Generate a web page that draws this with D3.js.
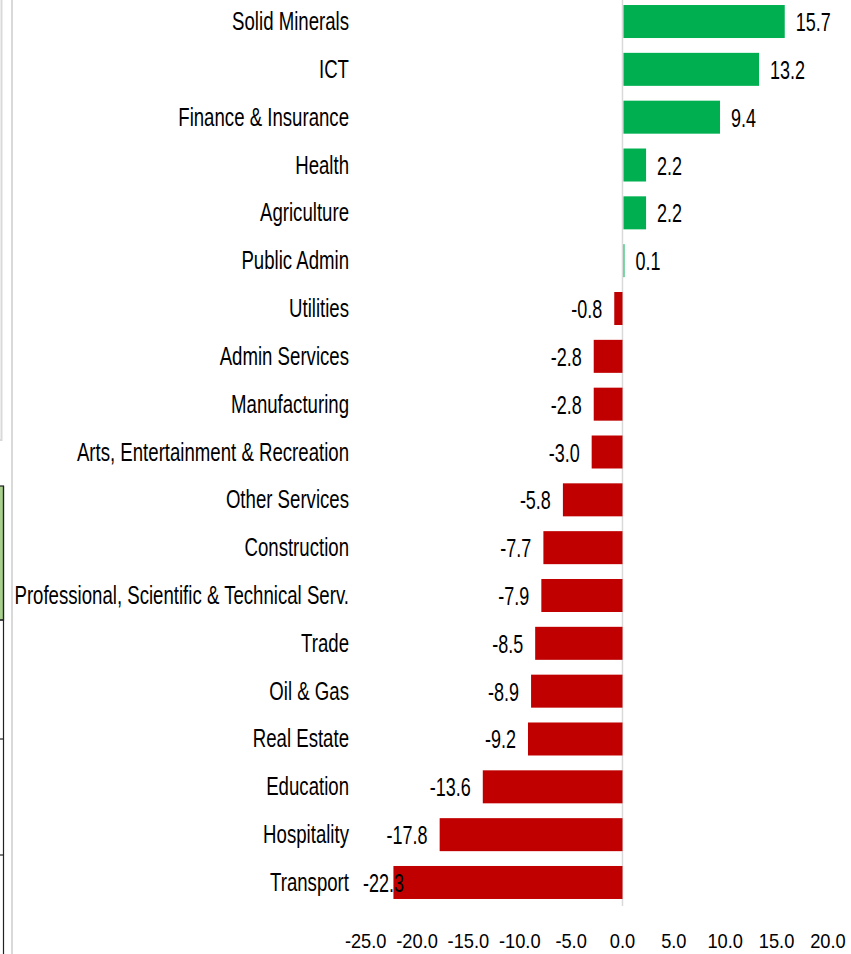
<!DOCTYPE html>
<html>
<head>
<meta charset="utf-8">
<script src="https://cdn.jsdelivr.net/npm/d3@7"></script>
<style>
  body { margin: 0; background: #fff; }
  svg text { font-family: "Liberation Sans", Arial, sans-serif; fill: #000; }
</style>
</head>
<body>
<svg id="chart"></svg>
<script>
// sector growth values
const sectors = ["Solid Minerals", "ICT", "Finance & Insurance", "Health", "Agriculture",
  "Public Admin", "Utilities", "Admin Services", "Manufacturing",
  "Arts, Entertainment & Recreation", "Other Services", "Construction",
  "Professional, Scientific & Technical Serv.", "Trade", "Oil & Gas", "Real Estate",
  "Education", "Hospitality", "Transport"];
const growth = [15.7, 13.2, 9.4, 2.2, 2.2, 0.1, -0.8, -2.8, -2.8, -3.0, -5.8, -7.7,
  -7.9, -8.5, -8.9, -9.2, -13.6, -17.8, -22.3];
const xTicks = [-25, -20, -15, -10, -5, 0, 5, 10, 15, 20];

const data = sectors.map((s, i) => ({ sector: s, value: growth[i] }));

const width = 851, height = 954;

// the original uses a condensed face, so squeeze Liberation Sans sideways
const catSqueeze = 0.745, valSqueeze = 0.72, tickSqueeze = 0.87;

const svg = d3.select("#chart")
  .attr("width", width)
  .attr("height", height);

// bits of the neighbouring sheet showing on the left edge
const edge = svg.append("g");
edge.append("path").attr("d", "M1.5,0V440H0").attr("fill", "none").attr("stroke", "#d9d9d9").attr("stroke-width", 2);
edge.append("line").attr("x1", 12).attr("x2", 12).attr("y1", 0).attr("y2", height)
  .attr("stroke", "#d9d9d9").attr("stroke-width", 2);
edge.append("rect").attr("x", -2).attr("y", 486).attr("width", 5.5).attr("height", 134)
  .attr("fill", "#a9d18e").attr("stroke", "#222").attr("stroke-width", 1.2);
edge.append("line").attr("x1", 3.5).attr("x2", 3.5).attr("y1", 486).attr("y2", height)
  .attr("stroke", "#222").attr("stroke-width", 1.2);
[620, 739, 855].forEach(yy => {
  edge.append("line").attr("x1", 0).attr("x2", 4).attr("y1", yy).attr("y2", yy)
    .attr("stroke", "#222").attr("stroke-width", 1.2);
});

// scales
const x = d3.scaleLinear()
  .domain([-25, 20])
  .range([365.7, 827.9]);

const y = d3.scaleBand()
  .domain(sectors)
  .range([-2.4, 906.4])
  .paddingInner(0.31)
  .paddingOuter(0.155);

// zero line
svg.append("line")
  .attr("x1", x(0)).attr("x2", x(0))
  .attr("y1", 0).attr("y2", 906)
  .attr("stroke", "#d9d9d9").attr("stroke-width", 1.5);

// bars
svg.selectAll(".bar")
  .data(data)
  .enter()
  .append("rect")
  .attr("class", "bar")
  .attr("x", d => x(Math.min(0, d.value)) + (d.value > 0 ? 1 : 0))
  .attr("y", d => y(d.sector))
  .attr("width", d => Math.abs(x(d.value) - x(0)))
  .attr("height", y.bandwidth())
  .attr("fill", d => d.value >= 0 ? "#00b050" : "#c00000");

// category labels
svg.selectAll(".cat")
  .data(data)
  .enter()
  .append("text")
  .attr("class", "cat")
  .attr("transform", d => `translate(349,${y(d.sector) + y.bandwidth() / 2}) scale(${catSqueeze},1)`)
  .attr("dy", "0.34em")
  .attr("text-anchor", "end")
  .style("font-size", "25px")
  .text(d => d.sector);

// value labels
const vals = svg.selectAll(".val")
  .data(data)
  .enter()
  .append("text")
  .attr("class", "val")
  .attr("dy", "0.38em")
  .style("font-size", "25px")
  .text(d => d.value.toFixed(1));

vals.each(function(d) {
  const t = d3.select(this);
  const cy = y(d.sector) + y.bandwidth() / 2;
  let left;
  if (d.value >= 0) {
    left = x(d.value) + 12;
  } else {
    const w = this.getComputedTextLength() * valSqueeze;
    left = x(d.value) - 12 - w;
    if (left < 363) left = 363; // keep inside plot area
  }
  t.attr("transform", `translate(${left},${cy}) scale(${valSqueeze},1)`);
});

// x axis tick labels
svg.selectAll(".tick-label")
  .data(xTicks)
  .enter()
  .append("text")
  .attr("class", "tick-label")
  .attr("transform", d => `translate(${x(d)},940.5) scale(${tickSqueeze},1)`)
  .attr("dy", "0.35em")
  .attr("text-anchor", "middle")
  .style("font-size", "21px")
  .text(d => d.toFixed(1));
</script>
</body>
</html>
